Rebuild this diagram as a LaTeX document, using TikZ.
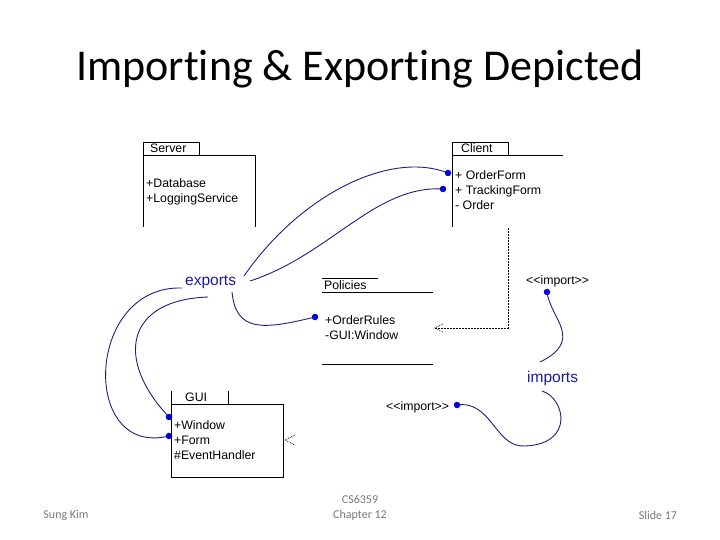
\documentclass[tikz,border=0pt]{standalone}
\usepackage{fontspec}
\setmainfont{Liberation Sans}
\newfontfamily\slidefont[Ligatures=NoCommon]{Carlito}
\usetikzlibrary{arrows.meta}
\definecolor{navy}{RGB}{30,30,128}
\definecolor{dotblue}{RGB}{0,0,220}
\definecolor{lblblue}{RGB}{25,25,160}
\definecolor{footgray}{RGB}{120,120,120}
\begin{document}
\begin{tikzpicture}[x=1pt,y=-1pt,
  box/.style={line width=0.9pt,black},
  txt/.style={anchor=west,inner sep=0pt,font=\fontsize{12.3}{12}\selectfont,text height=8.8pt,text depth=0pt},
  blbl/.style={anchor=west,inner sep=0pt,font=\fontsize{15.5}{15}\selectfont,text height=11pt,text depth=0pt,text=lblblue},
  curve/.style={navy,line width=0.9pt},
  bdot/.style={circle,fill=dotblue,inner sep=0pt,minimum size=6.5pt},
  dep/.style={line width=0.8pt,dash pattern=on 2pt off 1pt},
  foot/.style={inner sep=0pt,font=\slidefont\fontsize{12}{15}\selectfont,text=footgray,align=center}]
\useasboundingbox (0,0) rectangle (720,540);
% title
\node[inner sep=0pt,font=\slidefont\fontsize{44}{44}\selectfont] (title) at (360,69) {Importing \& Exporting Depicted};
% Server
\draw[box] (143,227) -- (143,142) -- (199,142) -- (199,155);
\draw[box] (143,155) -- (255,155) -- (255,227);
\node[txt] (srvname) at (150,148) {Server};
\node[txt] (srv1) at (146,183) {+Database};
\node[txt] (srv2) at (146,198) {+LoggingService};
% Client
\draw[box] (452,227) -- (452,142) -- (508,142) -- (508,155);
\draw[box] (452,155) -- (563,155);
\node[txt] (cliname) at (461,148) {Client};
\node[txt] (cli1) at (455,175.5) {+ OrderForm};
\node[txt] (cli2) at (455,190.5) {+ TrackingForm};
\node[txt] (cli3) at (455,205.5) {- Order};
\coordinate (cd1) at (448,173);
\coordinate (cd2) at (443,189);
% Policies
\draw[box] (322,278) -- (378,278);
\node[txt] (polname) at (324,285) {Policies};
\draw[box] (322,292) -- (433,292);
\node[txt] (pol1) at (325,320.5) {+OrderRules};
\node[txt] (pol2) at (325,335.5) {-GUI:Window};
\draw[box] (322,364) -- (433,364);
\coordinate (pd) at (315,317);
% dependency Client -> Policies
\coordinate (depstart) at (508,228);
\coordinate (depcorner) at (508,328);
\coordinate (deptip) at (435,328);
\draw[dep] (depstart) -- (depcorner) -- (deptip);
\draw[line width=0.7pt,densely dotted] (443,324) -- (deptip) -- (443,332);
% GUI
\draw[box] (171,391) -- (171,477) -- (283,477) -- (283,404) -- (171,404);
\draw[box] (228,391) -- (228,404);
\node[txt] (guiname) at (185,397) {GUI};
\node[txt] (gui1) at (174,425) {+Window};
\node[txt] (gui2) at (174,440.5) {+Form};
\node[txt] (gui3) at (174,455.5) {\#EventHandler};
\coordinate (gd1) at (169,417);
\coordinate (gd2) at (169,436);
\coordinate (guitip) at (285,440);
\draw[line width=0.7pt,densely dotted] (295,435) -- (guitip) -- (295,445);
% labels
\node[blbl] (exports) at (185,280) {exports};
\node[blbl] (imports) at (527,377) {imports};
\node[txt] (imp1) at (526,280) {<{}<import>{}>};
\node[txt] (imp2) at (386,406) {<{}<import>{}>};
\coordinate (id1) at (547,292);
\coordinate (id2) at (457,405);
% curves
\draw[curve] (244,276) .. controls (300,195) and (390,150) .. (cd1);
\draw[curve] (250,281) .. controls (330,255) and (375,185) .. (cd2);
\draw[curve] (232,292) .. controls (236,332) and (262,330) .. (pd);
\draw[curve] (182,288) .. controls (85,285) and (80,458) .. (gd2);
\draw[curve] (208,297) .. controls (125,300) and (115,360) .. (gd1);
\draw[curve] (id1) .. controls (550,318) and (585,340) .. (540,362);
\draw[curve] (id2) .. controls (492,400) and (495,448) .. (525,446) .. controls (575,444) and (565,398) .. (542,391);
% dots
\foreach \p in {cd1,cd2,pd,gd1,gd2,id1,id2} \node[bdot] at (\p) {};
% footer
\node[foot] (author) at (66,515) {Sung Kim};
\node[foot] (course) at (360,508) {CS6359\\Chapter 12};
\node[foot] (slide) at (658,515) {Slide 17};
\end{tikzpicture}
\end{document}
